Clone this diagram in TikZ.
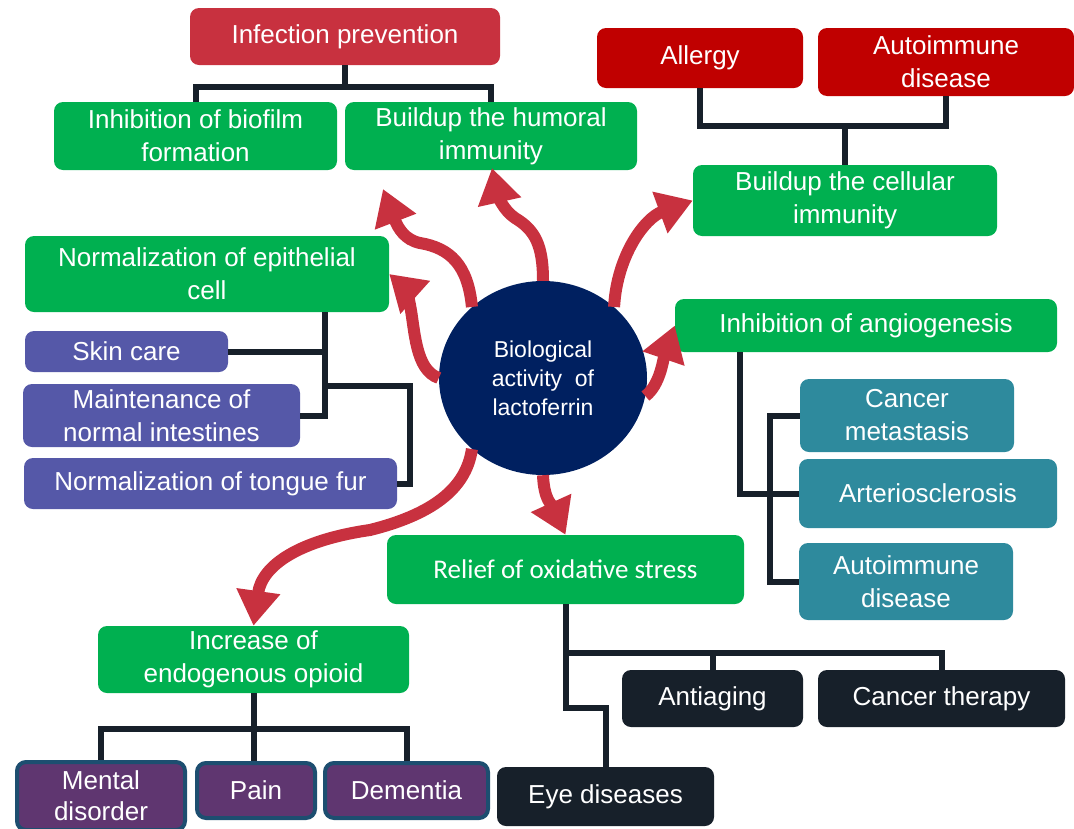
\documentclass[tikz,border=0pt]{standalone}
\usepackage{fontspec}
\setmainfont{Liberation Sans}
\newfontfamily\calibrifont{Carlito}
\usepackage{xcolor}
\usetikzlibrary{shapes.geometric,arrows.meta}
\definecolor{lfgreen}{HTML}{00B050}
\definecolor{lfred}{HTML}{C8313F}
\definecolor{lfcrimson}{HTML}{C00000}
\definecolor{lfviolet}{HTML}{5558A8}
\definecolor{lfteal}{HTML}{2E8A9D}
\definecolor{lfdark}{HTML}{17202A}
\definecolor{lfplum}{HTML}{5F3670}
\definecolor{lfedge}{HTML}{1D4E70}
\definecolor{lfnavy}{HTML}{002060}

\begin{document}
\begin{tikzpicture}[x=1pt,y=-1pt]
            \tikzset{
            lf box/.style={rounded corners=9pt,text=white,align=center,inner sep=0,font=\fontsize{26}{33}\selectfont},
            lf green/.style={lf box,fill=lfgreen},
            lf red/.style={lf box,fill=lfred},
            lf crimson/.style={lf box,fill=lfcrimson},
            lf violet/.style={lf box,fill=lfviolet},
            lf teal/.style={lf box,fill=lfteal},
            lf dark/.style={lf box,fill=lfdark},
            lf plum/.style={lf box,fill=lfplum,draw=lfedge,line width=4pt},
            lf link/.style={draw=lfdark,line width=6pt},
            lf arrow/.style={draw=lfred,line width=12pt,-{Triangle[width=42pt,length=35pt]}}
            }
            \useasboundingbox (0,0) rectangle (1074,828);

            % infection prevention
            \node[lf red, minimum width=310pt, minimum height=57pt] (inf) at (345,36.5) {Infection prevention};
            \node[lf green, minimum width=283pt, minimum height=68pt] (bio) at (195.5,136) {Inhibition of biofilm\\formation};
            \node[lf green, minimum width=292pt, minimum height=68pt] (hum) at (491,136) {Buildup the humoral\\immunity};

            % cellular immunity
            \node[lf crimson, minimum width=206pt, minimum height=60pt] (all) at (700,58) {Allergy};
            \node[lf crimson, minimum width=256pt, minimum height=68pt] (aut1) at (946,62) {Autoimmune\\disease};
            \node[lf green, minimum width=304pt, minimum height=71pt] (cel) at (845,200.5) {Buildup the cellular\\immunity};

            % epithelial cell
            \node[lf green, minimum width=364pt, minimum height=76pt] (epi) at (207,274) {Normalization of epithelial\\cell};
            \node[lf violet, minimum width=203pt, minimum height=41pt] (skin) at (126.5,351.5) {Skin care};
            \node[lf violet, minimum width=277pt, minimum height=63pt] (mai) at (161.5,415.5) {Maintenance of\\normal intestines};
            \node[lf violet, minimum width=373pt, minimum height=51pt] (ton) at (210.5,483.5) {Normalization of tongue fur};

            % centre
            \node[ellipse, fill=lfnavy, minimum width=208pt, minimum height=194pt, inner sep=0, text=white, align=center,
                  font=\fontsize{23}{29}\selectfont] (lf) at (543,378) {Biological\\activity~ of\\lactoferrin};

            % angiogenesis
            \node[lf green, minimum width=382pt, minimum height=53pt] (ang) at (866,325.5) {Inhibition of angiogenesis};
            \node[lf teal, minimum width=214pt, minimum height=73pt] (can) at (907,415.5) {Cancer\\metastasis};
            \node[lf teal, minimum width=258pt, minimum height=69pt] (art) at (928,493.5) {Arteriosclerosis};
            \node[lf teal, minimum width=214pt, minimum height=77pt] (aut2) at (906,581.5) {Autoimmune\\disease};

            % oxidative stress
            \node[lf green, minimum width=357pt, minimum height=69pt, font=\calibrifont\fontsize{27}{32}\selectfont] (rel) at (565.5,569.5) {Relief of oxidative stress};
            \node[lf dark, minimum width=181pt, minimum height=57pt] (anti) at (712.5,698.5) {Antiaging};
            \node[lf dark, minimum width=247pt, minimum height=57pt] (ct) at (941.5,698.5) {Cancer therapy};
            \node[lf dark, minimum width=217pt, minimum height=59pt] (eye) at (605.5,796.5) {Eye diseases};

            % endogenous opioid
            \node[lf green, minimum width=311pt, minimum height=67pt] (opi) at (253.5,659.5) {Increase of\\endogenous opioid};
            \node[lf plum, minimum width=168pt, minimum height=68pt, font=\fontsize{26}{31}\selectfont] (men) at (101,796) {Mental\\disorder};
            \node[lf plum, minimum width=118pt, minimum height=55pt] (pain) at (256,790.5) {Pain};
            \node[lf plum, minimum width=163pt, minimum height=55pt] (dem) at (406.5,790.5) {Dementia};

            \coordinate (epi fork) at (325,386);
            \coordinate (tipA) at (383,189);
            \coordinate (tipB) at (492,168);

            % links
            \draw[lf link] (bio.north) -- ++(0,-15) -| (hum.north);
            \draw[lf link] (inf.south) -- ++(0,22);
            \draw[lf link] (all.south) -- ++(0,38) -| (aut1.south);
            \draw[lf link] (cel.north) -- ++(0,-39);
            \draw[lf link] ([xshift=-64pt]epi.south east) |- (mai.east);
            \draw[lf link] (skin.east) -- ++(97,0);
            \draw[lf link] (epi fork) -| ([xshift=13pt]ton.east) -- (ton.east);
            \draw[lf link] ([xshift=-126pt]ang.south) |- (art.west);
            \draw[lf link] (can.west) -- ++(-30,0) |- (aut2.west);
            \draw[lf link] (rel.south) -- ++(0,49) -| (ct.north);
            \draw[lf link] (anti.north) -- ++(0,-17);
            \draw[lf link] (rel.south) -- ++(0,104) -| (eye.north);
            \draw[lf link] (men.north) -- ++(0,-31) -| (dem.north);
            \draw[lf link] (opi.south) -- (opi.south |- pain.north);

            % arrows
            \draw[lf arrow] (lf.135) .. controls (468,265) and (450,248) .. (420,243) .. controls (405,240) and (398,228) .. (tipA);
            \draw[lf arrow] (lf.90) .. controls (543,245) and (535,230) .. (515,218) .. controls (503,210) and (498,195) .. (tipB);
            \draw[lf arrow] (lf.45) .. controls (617,255) and (645,218) .. (cel.west);
            \draw[lf arrow] (lf.180) .. controls (415,370) and (415,330) .. (410,305) .. controls (407,290) .. (epi.east);
            \draw[lf arrow] (lf.-10) .. controls (660,385) and (663,360) .. (ang.west);
            \draw[lf arrow] (lf.-90) .. controls (544,500) and (552,505) .. (rel.north);
            \draw[lf arrow] (lf.-135) .. controls (466,490) and (430,515) .. (370,530) .. controls (300,540) and (262,565) .. (opi.north);
        \end{tikzpicture}
\end{document}
